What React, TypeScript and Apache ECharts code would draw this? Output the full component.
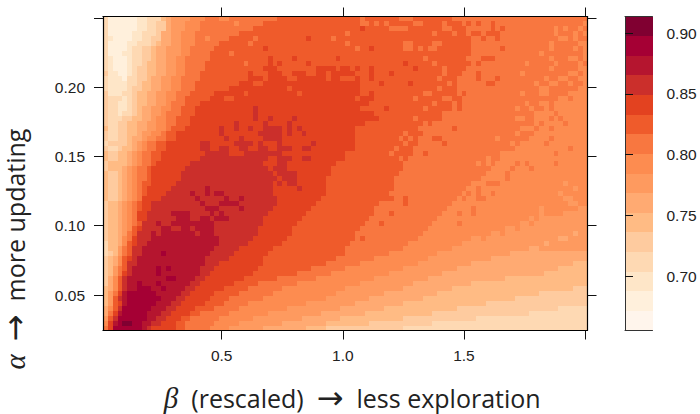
import React, { useEffect, useRef } from "react";
import * as echarts from "echarts";

const levelColors = ["#fff5ec","#fff0dc","#fee6c8","#fed9b3","#fecb9f","#ffbb84","#ffaa72","#fe9a5f","#fd8c50","#f87740","#ef5b2b","#e34220","#cb2f2b","#b5152f","#a50034","#800031"];
const accMin = 0.6552;
const accStep = 0.01616;
const xTicks = [0.5, 1.0, 1.5, 2.0];
const xLabels = [0.5, 1.0, 1.5];
const yTicks = [0.05, 0.1, 0.15, 0.2, 0.25];
const yLabels = [0.05, 0.1, 0.15, 0.2];
const barTicks = [0.7, 0.75, 0.8, 0.85, 0.9];
const betaStart = 0.01;
const betaStep = 0.02;
const alphaTop = 0.251;
const alphaStep = 0.2266 / 63;

// each row, top to bottom: level@endColumn runs
const rows: string[] = [
"3@1 1@7 2@9 3@12 5@13 6@14 7@18 8@21 9@24 8@26 9@36 a@53 9@54 a@61 9@64 a@72 9@100",
"3@1 1@7 2@9 3@11 4@13 6@14 7@17 8@20 9@27 8@28 9@33 a@53 9@55 a@58 9@59 a@65 9@66 a@74 9@100",
"3@1 1@7 2@9 3@11 4@13 6@14 7@17 8@20 9@31 a@53 b@54 a@62 9@63 a@70 9@72 a@75 9@95 8@96 9@100",
"3@1 1@6 2@8 3@11 4@12 6@14 7@16 8@19 9@28 a@50 9@51 a@72 9@73 a@75 9@100",
"3@1 2@2 1@6 2@8 3@10 4@12 6@14 7@16 8@19 9@21 8@22 9@26 a@31 9@32 a@42 b@43 a@47 9@48 a@76 9@94 8@95 9@100",
"3@1 1@5 2@7 3@10 4@11 5@12 6@14 7@16 8@19 9@24 a@30 9@31 a@68 9@70 a@76 9@98 8@99 9@100",
"3@1 1@5 2@6 3@8 4@10 5@11 6@13 7@16 8@18 9@23 a@33 b@34 a@52 9@53 a@55 b@56 a@62 9@64 a@76 9@92 8@93 9@97 8@98 9@100",
"3@1 1@4 2@6 3@8 4@10 5@11 6@13 7@16 8@18 9@22 a@26 9@27 a@76 9@90 8@91 9@100",
"3@1 2@2 1@5 2@6 3@8 4@10 5@11 6@13 7@15 8@17 9@22 a@34 b@35 a@39 b@40 a@48 b@49 a@75 9@96 8@98 9@100",
"3@1 2@2 1@5 2@6 3@8 4@9 5@11 6@13 7@15 8@17 9@21 a@29 9@30 a@34 b@35 a@36 b@37 a@42 b@43 a@62 b@63 a@75 9@93 8@94 9@100",
"3@1 2@2 1@5 2@6 3@7 4@9 5@11 6@13 7@15 8@17 9@21 a@33 b@36 a@44 b@48 a@49 b@51 a@52 b@53 a@55 b@56 a@64 b@65 a@75 9@92 8@93 9@100",
"4@1 2@3 1@5 2@6 3@7 4@9 5@11 6@13 7@15 8@17 9@20 a@30 b@31 a@34 b@37 a@39 b@42 a@44 b@46 a@47 b@52 a@55 b@56 a@59 b@60 a@74 9@96 8@98 9@100",
"3@1 2@4 1@5 3@7 4@9 5@10 6@12 7@14 8@16 9@20 a@30 b@33 a@34 b@38 a@40 b@46 a@47 b@49 a@52 b@53 a@55 b@56 a@73 9@94 8@96 9@100",
"3@1 2@5 3@7 4@8 5@10 6@12 7@14 8@16 9@19 a@28 b@31 a@33 b@53 a@57 b@58 a@63 b@64 a@73 9@92 8@94 9@100",
"3@1 2@5 3@6 4@8 5@10 6@12 7@14 8@16 9@19 a@26 b@38 a@39 b@53 a@73 9@90 8@92 9@100",
"4@1 2@4 3@6 4@7 5@9 6@11 7@13 8@15 9@18 a@23 b@29 a@30 b@40 a@41 b@53 a@55 b@56 a@66 9@67 a@73 9@90 8@92 9@96 8@100",
"4@1 3@4 2@5 3@6 4@7 5@9 6@11 7@13 8@15 9@17 a@22 b@25 a@27 b@52 a@53 b@56 a@70 9@72 a@73 9@94 8@96 9@97 8@100",
"4@1 3@3 2@5 3@6 4@7 5@9 6@11 7@13 8@14 9@17 a@20 b@55 a@72 9@90 8@92 9@93 8@100",
"4@1 3@3 2@5 3@6 4@7 5@8 6@10 7@12 8@14 9@16 a@19 b@31 c@32 b@53 a@58 b@59 a@72 9@93 8@100",
"4@1 3@3 2@4 3@6 4@7 5@8 6@10 7@12 8@13 9@16 a@19 b@31 c@32 b@56 a@71 9@90 8@93 9@94 8@100",
"4@1 3@4 4@6 5@8 6@10 7@11 8@13 9@15 a@18 b@31 c@32 b@34 c@35 b@39 c@40 b@57 a@70 9@89 8@92 9@93 8@100",
"4@1 3@3 4@5 5@7 6@9 7@11 8@13 9@15 a@18 b@27 c@28 b@33 c@34 b@38 c@39 b@54 a@68 9@91 8@100",
"5@1 3@3 4@5 5@7 6@9 7@11 8@13 9@14 a@17 b@24 c@25 b@27 c@28 b@30 c@31 b@33 c@37 b@38 c@39 b@40 c@41 b@52 a@66 9@90 8@100",
"4@1 3@3 4@5 5@7 6@8 7@10 8@12 9@13 a@15 b@24 c@25 b@32 c@37 b@38 c@39 b@41 c@42 b@52 a@66 9@89 8@100",
"4@1 3@3 4@5 5@6 6@8 7@9 8@11 9@13 a@15 b@25 c@26 b@28 c@29 b@33 c@37 b@52 a@65 9@88 8@100",
"3@1 4@5 5@6 6@7 7@8 8@9 9@11 a@13 b@20 c@22 b@27 c@31 b@32 c@33 b@36 c@37 b@43 c@44 b@52 a@65 9@86 8@100",
"4@1 3@3 4@4 5@6 6@7 7@8 8@9 9@11 a@13 b@20 c@22 b@24 c@26 b@28 c@30 b@32 c@34 b@36 c@39 b@41 c@43 b@52 a@64 9@85 8@100",
"5@1 4@3 5@5 6@6 7@7 8@8 9@10 a@12 b@21 c@26 b@29 c@37 b@50 a@64 9@84 8@100",
"5@1 4@3 5@5 6@6 7@7 8@8 9@10 a@12 b@20 c@34 b@36 c@39 b@41 c@43 b@50 a@63 9@82 8@100",
"4@1 5@5 6@6 7@7 8@8 9@10 a@11 b@18 c@33 b@36 c@38 b@48 a@62 9@81 8@100",
"4@1 5@4 6@5 7@6 8@7 9@9 a@10 b@17 c@34 b@35 c@38 b@47 a@62 9@80 8@100",
"5@1 4@3 5@4 6@5 7@6 8@7 9@9 a@10 b@16 c@35 b@36 c@40 b@47 a@61 9@79 8@100",
"5@1 4@3 5@4 6@5 7@6 8@7 9@9 a@10 b@16 c@36 b@37 c@40 b@46 a@60 9@78 8@100",
"5@1 4@3 5@4 6@5 7@6 8@7 9@8 a@10 b@15 c@35 b@36 c@37 b@38 c@40 b@46 a@60 9@76 8@95 7@96 8@100",
"5@1 4@3 5@4 6@5 7@6 8@7 9@8 a@9 b@14 c@21 d@22 c@35 b@40 c@41 b@46 a@60 9@75 8@97 7@98 8@100",
"5@1 4@3 5@4 6@5 7@6 8@7 9@8 a@9 b@13 c@18 d@19 c@21 d@22 c@23 d@25 c@35 b@46 a@59 9@74 8@100",
"5@1 4@3 5@4 6@5 7@6 8@7 9@8 b@12 c@19 d@20 c@25 d@26 c@28 d@29 c@36 b@45 a@58 9@73 8@100",
"4@1 5@3 6@4 7@5 8@6 9@7 a@8 b@10 c@20 d@21 c@24 d@28 c@36 b@44 a@57 9@72 8@100",
"4@1 5@3 6@4 7@5 8@6 9@7 a@8 b@10 c@21 d@24 c@28 d@29 c@35 b@43 a@56 9@71 8@98 7@100",
"4@1 5@3 6@4 7@5 8@6 9@7 b@9 c@14 d@18 c@22 d@23 c@24 d@25 c@34 b@42 a@56 9@70 8@95 7@100",
"4@1 5@3 6@4 7@5 8@6 9@7 b@9 c@15 d@18 c@20 d@22 c@23 d@26 c@33 b@41 a@55 9@69 8@90 7@100",
"4@1 5@3 6@4 7@5 8@6 9@7 a@8 c@11 d@12 c@14 d@23 c@33 b@40 a@54 9@68 8@86 7@100",
"4@1 5@3 6@4 7@5 8@6 a@7 b@8 c@12 d@14 c@16 d@18 c@19 d@23 c@32 b@39 a@53 9@67 8@83 7@100",
"4@1 5@3 6@4 7@5 9@6 a@7 c@10 d@11 c@12 d@19 c@20 d@23 c@32 b@39 a@52 9@66 8@80 7@97 6@98 7@100",
"4@1 5@3 6@4 8@5 9@6 b@7 c@10 d@24 c@31 b@38 a@52 9@65 8@76 7@94 6@96 7@100",
"3@1 5@3 6@4 8@5 a@6 b@7 c@9 d@24 c@30 b@37 a@51 9@63 8@74 7@91 6@92 7@100",
"3@1 5@3 7@4 9@5 a@6 c@8 d@23 c@28 b@35 a@50 9@62 8@72 7@88 6@90 7@100",
"3@1 4@2 5@3 7@4 9@5 a@6 c@8 d@12 e@13 d@22 c@27 b@34 a@50 9@59 8@69 7@84 6@100",
"4@1 5@2 6@3 8@4 a@5 b@6 c@7 d@21 c@26 b@33 a@48 9@56 8@67 7@80 6@100",
"4@1 5@2 6@3 8@4 a@5 c@7 d@21 c@24 b@33 a@46 9@53 8@65 7@76 6@97 5@100",
"4@1 5@2 7@3 9@4 a@5 c@6 d@11 e@12 d@13 e@14 d@20 c@23 b@32 a@43 9@50 8@62 7@73 6@94 5@100",
"4@1 5@2 7@3 9@4 b@5 c@6 d@11 e@12 d@20 c@22 b@31 a@40 9@47 8@59 7@70 6@91 5@100",
"4@1 6@2 8@3 a@4 c@5 d@13 e@15 d@19 c@21 b@29 a@36 9@44 8@56 7@67 6@83 5@100",
"4@1 6@2 8@3 a@4 c@5 d@7 e@8 d@11 e@12 d@18 c@20 b@27 a@32 9@40 8@53 7@64 6@76 5@100",
"5@1 6@2 8@3 a@4 c@5 d@7 e@10 d@12 e@13 d@17 c@19 b@25 a@30 9@37 8@50 7@62 6@72 5@97 4@100",
"5@1 7@2 9@3 b@4 d@5 e@11 d@16 c@18 b@23 a@28 9@35 8@48 7@58 6@69 5@90 4@100",
"5@1 7@2 a@3 c@4 d@5 e@12 d@15 c@17 b@22 a@26 9@33 8@46 7@55 6@66 5@85 4@100",
"5@1 7@2 a@3 b@4 d@5 e@11 d@14 c@16 b@21 a@25 9@30 8@42 7@52 6@62 5@79 4@100",
"6@1 8@2 a@3 c@4 e@10 d@13 c@15 b@19 a@23 9@28 8@38 7@49 6@58 5@73 4@94 3@100",
"6@1 9@2 b@3 d@4 e@9 d@12 c@14 b@18 a@20 9@26 8@34 7@45 6@54 5@68 4@88 3@100",
"7@1 a@2 c@3 e@9 d@11 c@13 b@16 a@18 9@24 8@31 7@41 6@49 5@62 4@77 3@100",
"8@1 b@2 d@3 e@4 f@6 e@8 d@10 c@12 b@15 a@17 9@23 8@28 7@37 6@46 5@55 4@68 3@100",
"9@1 b@2 e@8 d@9 c@10 b@15 a@17 9@22 8@26 7@33 6@42 5@46 4@62 3@100",
];

// isolated cells that stand out from their neighbours: [row, column, level]
const specks: number[][] = [
[1,56,9],[2,59,9],[2,60,9],[2,61,9],[1,64,9],[1,65,9],[1,70,9],[2,71,9],[5,50,9],[5,62,9],[5,63,9],[6,65,9],[6,67,9],[6,68,9],[3,68,9],[8,66,9],[9,68,9],[10,70,9],[11,70,9],[12,69,9],[13,71,9],[14,69,9],[15,67,9],[16,64,9],[17,68,9],[18,66,9],[19,70,9],[20,64,9],[21,66,9],[22,65,9],[23,62,9],[24,61,9],[25,62,9],[26,60,9],[27,59,9],[28,61,9],[24,63,9],
[1,75,10],[1,77,10],[1,80,10],[2,80,10],[3,76,10],[3,77,10],[3,79,10],[3,80,10],[3,81,10],[2,82,10],[4,78,10],[4,81,10],[6,82,10],[8,78,10],[8,79,10],[8,80,10],[9,77,10],[9,75,10],[11,77,10],[12,77,10],[13,79,10],[13,80,10],[12,81,10],[15,74,10],[16,73,10],[17,73,10],[18,73,10],[22,72,10],[24,68,10],[24,69,10],[25,70,10],[27,66,10],
[2,93,8],[3,93,8],[4,95,8],[5,92,8],[6,92,8],[4,97,8],[3,97,8],[2,98,8],[8,92,8],[9,87,8],[11,86,8],[12,91,8],[13,89,8],[12,95,8],[13,96,8],[15,86,8],[1,99,8],[3,99,8],[5,99,8],[6,99,8],[7,99,8],[8,99,8],[9,98,8],[10,98,8],[10,99,8],[11,99,8],[12,98,8],[12,99,8],[13,99,8],[14,98,8],[14,99,8],
[17,87,8],[18,85,8],[18,88,8],[18,91,8],[19,89,8],[20,85,8],[20,86,8],[20,89,8],[21,89,8],[22,86,8],[22,87,8],[22,88,8],[23,85,8],[24,81,8],[25,84,8],[27,82,8],[27,83,8],[28,79,8],[29,77,8],[29,79,8],
[21,95,9],[20,94,9],[22,92,9],[24,92,9],[25,91,9],[26,96,9],[27,93,9],[29,93,9],[29,87,9],[30,88,9],[29,85,9],[30,84,9],[31,83,9],[33,79,9],[33,80,9],[33,81,9],[32,83,9],[35,80,9],[34,77,9],[35,77,9],[36,77,9],[36,78,9],[36,74,9],[35,75,9],[38,76,9],[39,73,9],[41,73,9],[39,76,9],
[36,62,10],[37,62,10],[36,58,10],[36,59,10],[39,59,10],[41,57,10],[44,53,10],[45,60,9],
[38,90,7],[39,90,7],[40,88,7],[36,95,7],[36,96,7],[35,94,7],[37,96,7],[37,97,7],[43,82,8],[44,78,8],[42,85,8],[41,88,8],
];

function expandRow(row: string): number[] {
  const out: number[] = [];
  row.split(" ").forEach((tok) => {
    const [l, e] = tok.split("@");
    while (out.length < Number(e)) out.push(parseInt(l, 16));
  });
  return out;
}
const accOf = (lvl: number) => accMin + (lvl + 0.5) * accStep;
const grid = rows.map(expandRow);
specks.forEach(([r, c, l]) => { grid[r][c] = l; });
const cells: number[][] = [];
grid.forEach((row, r) => {
  row.forEach((lvl, c) => {
    cells.push([betaStart + (c + 0.5) * betaStep, alphaTop - (r + 0.5) * alphaStep, accOf(lvl)]);
  });
});
const barCells = levelColors.map((_, i) => [0.5, accOf(i), accOf(i)]);
const colorOf = (v: number) => levelColors[Math.max(0, Math.min(15, Math.floor((v - accMin) / accStep)))];

const band = (dx: number, dy: number) => (_p: any, api: any) => {
  const x = api.value(0), y = api.value(1);
  const a = api.coord([x - dx / 2, y + dy / 2]);
  const b = api.coord([x + dx / 2, y - dy / 2]);
  const x0 = Math.round(a[0]), y0 = Math.round(a[1]), x1 = Math.round(b[0]), y1 = Math.round(b[1]);
  return { type: "rect", shape: { x: x0, y: y0, width: x1 - x0, height: y1 - y0 }, style: { fill: colorOf(api.value(2)) } };
};

const labelFont = "Liberation Sans";
const titleFont = "Open Sans";
const line = { show: true, lineStyle: { color: "#000", width: 1.2 } };
const tick = (values: number[]) => ({ show: true, length: 9, customValues: values, lineStyle: { color: "#111", width: 1 } });
const noTick = { show: false };
const noLabel = { show: false };
const off = { show: false };
const titleRich = {
  g: { fontFamily: "Liberation Serif", fontStyle: "italic", fontSize: 29, color: "#222" },
  a: { fontFamily: "DejaVu Sans", fontSize: 32, color: "#222" },
};

export default function App() {
  const ref = useRef<HTMLDivElement>(null);
  useEffect(() => {
    const chart = echarts.init(ref.current!, null, { renderer: "svg" });
    chart.setOption({
      animation: false,
      backgroundColor: "#fff",
      grid: [
        { left: 103, top: 16.5, width: 484.5, height: 314, outerBoundsMode: "none" },
        { left: 625, top: 16.5, width: 27.5, height: 314, outerBoundsMode: "none" },
      ],
      xAxis: [
        { type: "value", gridIndex: 0, position: "bottom", min: 0.01, max: 2.01, z: 5, splitLine: off, axisLine: line, axisTick: tick(xTicks),
          axisLabel: { customValues: xLabels, margin: 17, fontSize: 15.5, fontFamily: labelFont, color: "#222", formatter: (v: number) => v.toFixed(1) },
          name: "{g|β}  (rescaled)  {a|→}  less exploration", nameLocation: "middle", nameGap: 51,
          nameTextStyle: { fontFamily: titleFont, fontSize: 25, color: "#222", padding: [0, 0, 0, 14], rich: titleRich } },
        { type: "value", gridIndex: 0, position: "top", min: 0.01, max: 2.01, z: 5, splitLine: off, axisLine: line, axisTick: tick(xTicks), axisLabel: noLabel },
        { type: "value", gridIndex: 1, position: "bottom", min: 0, max: 1, z: 5, splitLine: off, axisLine: { show: true, lineStyle: { color: "#333", width: 1 } }, axisTick: noTick, axisLabel: noLabel },
        { type: "value", gridIndex: 1, position: "top", min: 0, max: 1, z: 5, splitLine: off, axisLine: { show: true, lineStyle: { color: "#333", width: 1 } }, axisTick: noTick, axisLabel: noLabel },
      ],
      yAxis: [
        { type: "value", gridIndex: 0, position: "left", min: 0.0244, max: 0.251, z: 5, splitLine: off, axisLine: line, axisTick: tick(yTicks),
          axisLabel: { customValues: yLabels, margin: 18, fontSize: 15.5, fontFamily: labelFont, color: "#222", formatter: (v: number) => v.toFixed(2) },
          name: "{g|α}  {a|→}  more updating", nameLocation: "middle", nameGap: 72, nameRotate: 90,
          nameTextStyle: { fontFamily: titleFont, fontSize: 25, color: "#222", padding: [0, 151, 0, 0], rich: titleRich } },
        { type: "value", gridIndex: 0, position: "right", min: 0.0244, max: 0.251, z: 5, splitLine: off, axisLine: line, axisTick: tick(yTicks), axisLabel: noLabel },
        { type: "value", gridIndex: 1, position: "left", min: accMin, max: accMin + 16 * accStep, z: 5, splitLine: off, axisLine: { show: true, lineStyle: { color: "#333", width: 1 } }, axisTick: noTick, axisLabel: noLabel },
        { type: "value", gridIndex: 1, position: "right", min: accMin, max: accMin + 16 * accStep, z: 5, splitLine: off, axisLine: { show: true, lineStyle: { color: "#333", width: 1 } },
          axisTick: { show: true, length: 8, customValues: barTicks, lineStyle: { color: "#111", width: 1 } },
          axisLabel: { customValues: barTicks, margin: 14, fontSize: 15.5, fontFamily: labelFont, color: "#222", formatter: (v: number) => v.toFixed(2) } },
      ],
      series: [
        { type: "custom", coordinateSystem: "cartesian2d", xAxisIndex: 0, yAxisIndex: 0, silent: true, renderItem: band(betaStep, alphaStep), encode: { x: 0, y: 1 }, data: cells },
        { type: "custom", coordinateSystem: "cartesian2d", xAxisIndex: 2, yAxisIndex: 3, silent: true, renderItem: band(1, accStep), encode: { x: 0, y: 1 }, data: barCells },
      ],
    });
    return () => chart.dispose();
  }, []);
  return <div ref={ref} style={{ position: "absolute", left: 0, top: 0, width: 700, height: 414 }} />;
}
